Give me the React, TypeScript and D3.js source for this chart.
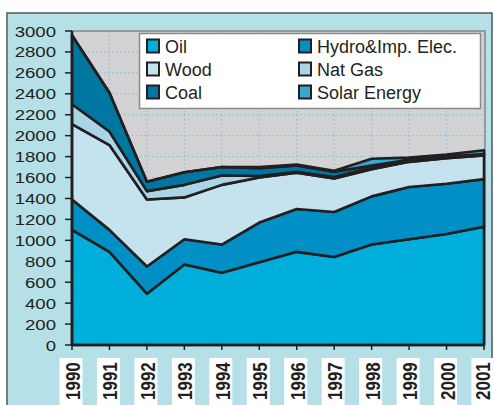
import React from "react";
import * as d3 from "d3";

const years = ["1990", "1991", "1992", "1993", "1994", "1995", "1996", "1997", "1998", "1999", "2000", "2001"];
const oil = [1100, 890, 490, 770, 690, 790, 890, 840, 960, 1010, 1060, 1130];
const hydro = [290, 210, 260, 240, 270, 380, 410, 430, 460, 500, 480, 455];
const wood = [720, 810, 640, 400, 570, 430, 345, 320, 260, 240, 245, 225];
const natGas = [190, 130, 80, 120, 90, 15, 10, 15, 15, 10, 10, 10];
const coal = [660, 370, 90, 120, 80, 75, 60, 50, 20, 10, 5, 5];
const solar = [0, 0, 0, 0, 0, 10, 10, 10, 65, 20, 20, 35];
const yTicks = d3.range(0, 3001, 200);

const keys = ["Oil", "Hydro&Imp. Elec.", "Wood", "Nat Gas", "Coal", "Solar Energy"];
const series = [oil, hydro, wood, natGas, coal, solar];
const colors = ["#00aedb", "#0090c5", "#c5e3ef", "#a9d5e7", "#0077a0", "#3aa5cf"];

const W = 494;
const H = 405;
const left = 72;
const right = 484;
const top = 31;
const bottom = 345;

export default function App() {
  const rows = years.map((y, i) => {
    const r: any = { year: y };
    keys.forEach((k, j) => (r[k] = series[j][i]));
    return r;
  });
  const stacked = d3.stack<any>().keys(keys)(rows);

  const x = d3.scalePoint<string>().domain(years).range([left, right]);
  const y = d3.scaleLinear().domain([0, 3000]).range([bottom, top]);

  const area = d3
    .area<any>()
    .x((d) => x(d.data.year) as number)
    .y0((d) => y(d[0]))
    .y1((d) => y(d[1]));

  const font = "'Liberation Sans', Arial, sans-serif";
  const ink = "#231f20";

  // legend laid out row by row in two columns
  const legendItems = keys.map((k, i) => ({
    name: k,
    color: colors[i],
    lx: i % 2 === 0 ? 147 : 299,
    cy: 46 + Math.floor(i / 2) * 23,
  }));

  return (
    <svg
      width={W}
      height={H}
      style={{ position: "absolute", left: 0, top: 0, background: "#fff" }}
    >
      <rect x={7} y={13} width={485} height={400} fill="#b5e0e8" stroke="#555" strokeWidth={1.5} />
      <rect x={left} y={top} width={right - left} height={bottom - top} fill="#d3d3d5" />

      {/* grid */}
      {yTicks.slice(1).map((t) => (
        <line key={"h" + t} x1={left} x2={right} y1={y(t)} y2={y(t)} stroke="#74c3d6" strokeWidth={1} strokeDasharray="1.5,2.5" />
      ))}
      {years.slice(1).map((yr) => (
        <line key={"v" + yr} x1={x(yr)} x2={x(yr)} y1={top} y2={bottom} stroke="#74c3d6" strokeWidth={1} strokeDasharray="1.5,2.5" />
      ))}
      <line x1={left} x2={right + 2} y1={top} y2={top} stroke="#9a9a9a" strokeWidth={2} />
      <line x1={right + 1} x2={right + 1} y1={top} y2={bottom} stroke="#9a9a9a" strokeWidth={2} />

      {/* stacked areas */}
      {stacked.map((s, i) => (
        <path key={s.key} d={area(s) || ""} fill={colors[i]} stroke={ink} strokeWidth={2.6} strokeLinejoin="round" />
      ))}

      {/* axes */}
      <line x1={left} x2={left} y1={top} y2={bottom + 1} stroke={ink} strokeWidth={2.5} />
      <line x1={left} x2={right + 1} y1={bottom} y2={bottom} stroke={ink} strokeWidth={2.5} />
      {yTicks.map((t) => (
        <g key={"yt" + t}>
          <line x1={left - 7} x2={left} y1={y(t)} y2={y(t)} stroke={ink} strokeWidth={1.5} />
          <text
            transform={`translate(56,${y(t) + 5.5}) scale(1.2,1)`}
            textAnchor="end"
            fontFamily={font}
            fontSize={15.5}
            fill={ink}
          >
            {t}
          </text>
        </g>
      ))}
      {years.map((yr) => {
        const xt = x(yr) as number;
        return (
          <g key={"xt" + yr}>
            <line x1={xt} x2={xt} y1={bottom} y2={bottom + 5} stroke={ink} strokeWidth={1.5} />
            <rect x={xt - 12.5} y={358} width={23} height={50} fill="#fff" />
            <text
              transform={`translate(${Math.min(xt + 8, 490)},400) rotate(-90) scale(1,1.2)`}
              fontFamily={font}
              fontWeight="bold"
              fontSize={17}
              fill={ink}
            >
              {yr}
            </text>
          </g>
        );
      })}

      {/* legend */}
      <rect x={139.5} y={33.5} width={341} height={75} fill="#fff" stroke="#8a8a8a" strokeWidth={1.5} />
      {legendItems.map((it) => (
        <g key={it.name}>
          <rect x={it.lx} y={it.cy - 6.5} width={12} height={13} fill={it.color} stroke={ink} strokeWidth={2} />
          <text x={it.lx + 18} y={it.cy + 6.5} fontFamily={font} fontSize={18} fill={ink}>
            {it.name}
          </text>
        </g>
      ))}
    </svg>
  );
}
